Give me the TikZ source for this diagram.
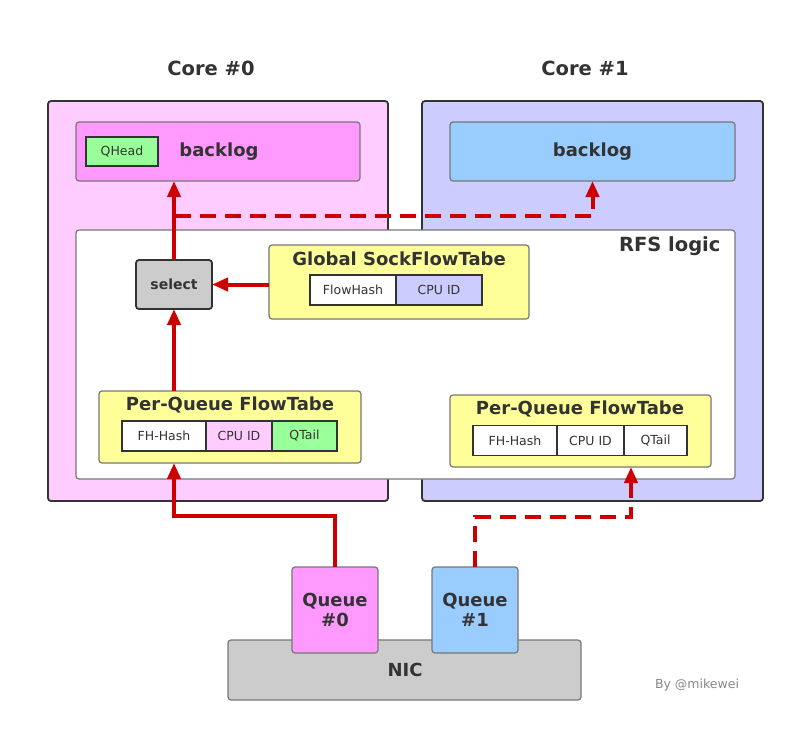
\documentclass[tikz,border=0pt]{standalone}
\usepackage{fontspec}
\setmainfont{DejaVu Sans}
\usetikzlibrary{positioning,arrows.meta}

\definecolor{txt}{HTML}{333333}
\definecolor{pinkbg}{HTML}{FFCCFF}
\definecolor{pink}{HTML}{FF99FF}
\definecolor{lavender}{HTML}{CCCCFF}
\definecolor{skyblue}{HTML}{99CCFF}
\definecolor{mint}{HTML}{99FF99}
\definecolor{lemon}{HTML}{FFFF99}
\definecolor{silver}{HTML}{CCCCCC}
\definecolor{edge}{HTML}{777777}
\definecolor{flow}{HTML}{CC0000}
\definecolor{credit}{HTML}{888888}

\tikzset{
  box/.style={draw=edge, line width=1.2pt, rounded corners=3pt, inner sep=0pt, outer sep=0pt},
  darkbox/.style={box, draw=txt, line width=1.8pt},
  cell/.style={draw=txt, line width=1.8pt, fill=white, minimum height=30pt, inner sep=0pt, outer sep=0pt, font=\fontsize{12.5}{14}\selectfont, text=txt},
  title/.style={font=\fontsize{18}{20}\selectfont\bfseries, text=txt},
  bigtitle/.style={font=\fontsize{19.5}{22}\selectfont\bfseries, text=txt},
  flowline/.style={draw=flow, line width=4pt, -{Triangle[length=16pt,width=13pt]}},
  dashline/.style={flowline, dash pattern=on 16pt off 9pt},
}

\begin{document}
\begin{tikzpicture}[x=1pt, y=-1pt]
\useasboundingbox (0,0) rectangle (795,733);

% cores
\node [bigtitle] (core0label) at (211,68) {Core \#0};
\node [bigtitle] (core1label) at (585,68) {Core \#1};
\node [darkbox, fill=pinkbg, minimum width=340pt, minimum height=400pt] (core0) at (218,301) {};
\node [darkbox, fill=lavender, minimum width=341pt, minimum height=400pt] (core1) at (592.5,301) {};

% backlogs
\node [box, fill=pink, minimum width=284pt, minimum height=59pt] (backlog0) at (218,151.5) {};
\node [cell, fill=mint, minimum width=72pt, minimum height=29pt] (qhead) at (122,151.5) {QHead};
\node [title] (backlog0label) at (219,152) {backlog};
\node [box, fill=skyblue, minimum width=285pt, minimum height=59pt, title] (backlog1) at (592.5,151.5) {backlog};

% RFS logic
\node [box, fill=white, minimum width=659pt, minimum height=249pt] (rfs) at (405.5,354.5) {};
\node [bigtitle, anchor=east] (rfslabel) at (724,246) {RFS logic};

\node [darkbox, fill=silver, minimum width=76pt, minimum height=49pt, font=\fontsize{14}{16}\selectfont\bfseries, text=txt] (select) at (174,284.5) {select};

\node [box, fill=lemon, minimum width=260pt, minimum height=74pt] (global) at (399,282) {};
\node [title] (globallabel) at (399,259) {Global SockFlowTabe};
\node [cell, minimum width=86pt] (flowhash) at (353,290) {FlowHash};
\node [cell, fill=lavender, minimum width=86pt, right=0pt of flowhash] (gcpu) {CPU ID};

\node [box, fill=lemon, minimum width=262pt, minimum height=72pt] (pq0) at (230,427) {};
\node [title] (pq0label) at (230,405) {Per-Queue FlowTabe};
\node [cell, minimum width=84pt] (pq0hash) at (164,436) {FH-Hash};
\node [cell, fill=pinkbg, minimum width=66pt, right=0pt of pq0hash] (pq0cpu) {CPU ID};
\node [cell, fill=mint, minimum width=65pt, right=0pt of pq0cpu] (pq0tail) {QTail};

\node [box, fill=lemon, minimum width=261pt, minimum height=72pt] (pq1) at (580.5,431) {};
\node [title] (pq1label) at (580,409) {Per-Queue FlowTabe};
\node [cell, minimum width=84pt] (pq1hash) at (515,440.5) {FH-Hash};
\node [cell, minimum width=67pt, right=0pt of pq1hash] (pq1cpu) {CPU ID};
\node [cell, minimum width=63pt, right=0pt of pq1cpu] (pq1tail) {QTail};

% NIC and queues
\node [box, fill=silver, minimum width=353pt, minimum height=60pt] (nic) at (404.5,670) {};
\node [title] (niclabel) at (405,670) {NIC};
\node [box, fill=pink, minimum width=86pt, minimum height=86pt, title, align=center] (queue0) at (335,610) {Queue\\\#0};
\node [box, fill=skyblue, minimum width=86pt, minimum height=86pt, title, align=center] (queue1) at (475,610) {Queue\\\#1};

\node [font=\fontsize{12.5}{14}\selectfont, text=credit] (by) at (697,685) {By @mikewei};

% flows
\coordinate (split) at (175,216);
\draw [flowline] (queue0.north) -- ++(0,-51) -| (select |- pq0.south);
\draw [flowline] (select |- pq0.north) -- (select.south);
\draw [flowline] (select.north) -- (select |- backlog0.south);
\draw [flowline] (global.west |- select) -- (select.east);
\draw [dashline] (split) -| (backlog1.south);
\draw [dashline] (queue1.north) -- ++(0,-50) -| ([xshift=-80pt]pq1.south east);
\end{tikzpicture}
\end{document}
